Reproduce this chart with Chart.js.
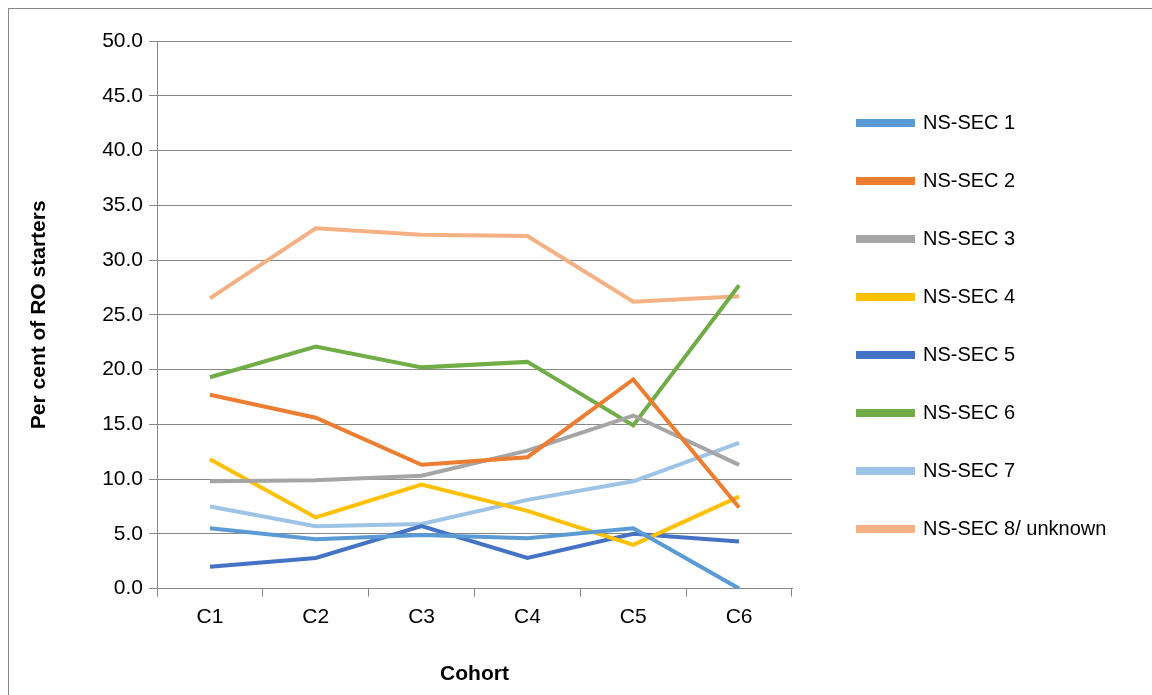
<!DOCTYPE html>
<html><head><script src="https://cdn.jsdelivr.net/npm/chart.js@4"></script>
<style>body{margin:0;background:#fff}#w{position:absolute;left:8px;top:8px;width:1150px;height:690px;border:1px solid #888;box-sizing:border-box}</style>
</head><body><div id="w"><canvas id="c"></canvas></div>
<script>
const categories=["C1","C2","C3","C4","C5","C6"];
const names=["NS-SEC 1","NS-SEC 2","NS-SEC 3","NS-SEC 4","NS-SEC 5","NS-SEC 6","NS-SEC 7","NS-SEC 8/ unknown"];
const s1=[5.5,4.5,4.9,4.6,5.5,0];
const s2=[17.7,15.6,11.3,12.0,19.1,7.4];
const s3=[9.8,9.9,10.3,12.6,15.8,11.3];
const s4=[11.8,6.5,9.5,7.1,4.0,8.4];
const s5=[2.0,2.8,5.7,2.8,5.0,4.3];
const s6=[19.3,22.1,20.2,20.7,14.9,27.7];
const s7=[7.5,5.7,5.9,8.1,9.8,13.3];
const s8=[26.5,32.9,32.3,32.2,26.2,26.7];
const colors=["#5B9BD5","#ED7D31","#A5A5A5","#FFC000","#4472C4","#70AD47","#9DC3E6","#F4B183"];
const series=[s1,s2,s3,s4,s5,s6,s7,s8];
Chart.defaults.font.family="Arial, 'Liberation Sans', sans-serif";
Chart.defaults.font.size=21;
Chart.defaults.color="#000";
const legendWidth={id:'lw',
beforeLayout(chart){const l=chart.legend;if(l&&!l._p){const f=l.fit.bind(l);l.fit=function(){f();this.width=360;};l._p=1;}},
afterLayout(chart){const l=chart.legend;l.top-=40;l.bottom-=40;l.left=811;}};
new Chart(document.getElementById('c'),{type:'line',plugins:[legendWidth],
data:{labels:categories,datasets:series.map((d,i)=>({label:names[i],data:d,borderColor:colors[i],backgroundColor:colors[i],borderWidth:4,pointRadius:0,tension:0}))},
options:{responsive:true,maintainAspectRatio:false,animation:false,
layout:{padding:{left:14,top:32,right:5,bottom:6}},
plugins:{legend:{position:'right',align:'center',labels:{boxWidth:55,boxHeight:4,padding:38,font:{size:20}}},tooltip:{enabled:false}},
scales:{x:{offset:true,grid:{offset:true,drawOnChartArea:false,tickLength:8,color:'#888'},border:{color:'#888'},ticks:{padding:8},title:{display:true,text:'Cohort',font:{size:21,weight:'bold'},padding:{top:24}}},
y:{min:0,max:50,afterFit:s=>{s.width=134},ticks:{stepSize:5,callback:v=>v.toFixed(1),padding:6},grid:{color:'#888',tickLength:8},border:{color:'#888'},title:{display:true,text:'Per cent of RO starters',font:{size:21,weight:'bold'},padding:{bottom:14}}}}}});
</script></body></html>
